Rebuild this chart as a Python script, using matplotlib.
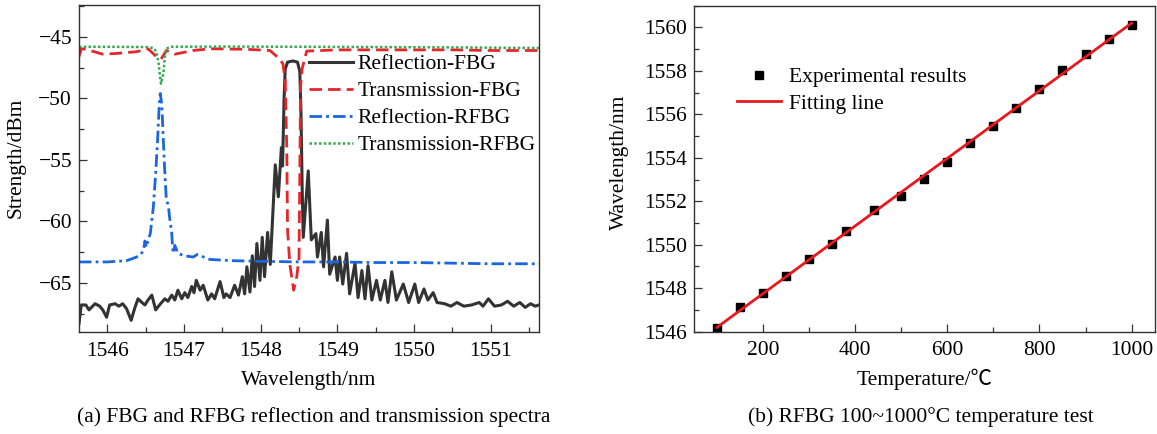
import numpy as np
import matplotlib
matplotlib.use("Agg")
import matplotlib.pyplot as plt
from matplotlib.ticker import MultipleLocator

plt.rcParams['font.family'] = ['Liberation Serif', 'Noto Sans CJK SC']
plt.rcParams['font.size'] = 15.5
plt.rcParams['axes.unicode_minus'] = True

# (a) spectra, wavelength in nm / power in dBm
fbg_ref_wl = [1545.63, 1545.66, 1545.72, 1545.76, 1545.84, 1545.90, 1545.94, 1545.99, 1546.03, 1546.10,
              1546.15, 1546.20, 1546.25, 1546.31, 1546.36, 1546.40, 1546.45, 1546.49, 1546.53, 1546.58,
              1546.63, 1546.68, 1546.75, 1546.79, 1546.84, 1546.88, 1546.92, 1546.97, 1547.01, 1547.05,
              1547.10, 1547.13, 1547.16, 1547.21, 1547.25, 1547.31, 1547.36, 1547.40, 1547.47, 1547.52,
              1547.55, 1547.60, 1547.66, 1547.71, 1547.76, 1547.79, 1547.82, 1547.86, 1547.89, 1547.92,
              1547.95, 1547.99, 1548.02, 1548.05, 1548.09, 1548.125, 1548.19, 1548.23, 1548.27, 1548.285,
              1548.305, 1548.32, 1548.35, 1548.42, 1548.48, 1548.51, 1548.525, 1548.54, 1548.555, 1548.62,
              1548.66, 1548.72, 1548.74, 1548.79, 1548.82, 1548.87, 1548.90, 1548.97, 1549.00, 1549.03,
              1549.07, 1549.12, 1549.16, 1549.23, 1549.27, 1549.32, 1549.36, 1549.40, 1549.45, 1549.51,
              1549.56, 1549.62, 1549.66, 1549.71, 1549.77, 1549.86, 1549.93, 1550.01, 1550.06, 1550.13,
              1550.18, 1550.25, 1550.30, 1550.40, 1550.48, 1550.56, 1550.65, 1550.75, 1550.85, 1550.90,
              1550.97, 1551.05, 1551.14, 1551.22, 1551.30, 1551.38, 1551.45, 1551.52, 1551.58, 1551.63]
fbg_ref_db = [-68.3, -66.8, -66.8, -67.2, -66.7, -66.9, -67.2, -67.8, -66.8, -66.7,
              -66.9, -66.7, -67.1, -68.05, -67.0, -66.3, -66.6, -66.8, -66.4, -66.0,
              -67.2, -66.8, -66.3, -66.5, -66.0, -66.4, -65.6, -66.3, -65.8, -66.2,
              -65.3, -65.8, -64.8, -65.6, -65.2, -66.4, -65.9, -66.3, -64.9, -66.2,
              -65.9, -66.2, -65.2, -66.0, -64.5, -65.9, -63.7, -65.75, -62.8, -65.3,
              -61.8, -64.8, -61.3, -64.5, -60.9, -63.5, -55.4, -58.0, -54.0, -55.5,
              -50.0, -47.6, -47.05, -46.95, -47.05, -47.8, -51.0, -57.0, -61.3, -55.9,
              -61.5, -61.0, -62.9, -60.9, -63.7, -59.9, -64.3, -62.9, -64.8, -62.9,
              -65.1, -62.6, -65.9, -63.4, -66.2, -64.0, -66.3, -63.6, -66.4, -64.8,
              -66.4, -64.8, -66.6, -64.1, -66.4, -65.1, -66.6, -65.1, -66.6, -65.5,
              -66.4, -65.8, -66.6, -66.7, -66.9, -66.6, -66.9, -66.8, -66.6, -66.9,
              -66.3, -66.9, -66.8, -66.5, -66.9, -66.6, -67.0, -66.7, -66.9, -66.8]

fbg_tr_wl = [1545.63, 1545.66, 1545.72, 1545.94, 1546.10, 1546.38, 1546.53, 1546.64, 1546.70, 1546.77,
             1546.88, 1547.12, 1547.34, 1547.80, 1548.12, 1548.25, 1548.29, 1548.32, 1548.34, 1548.35,
             1548.38, 1548.43, 1548.47, 1548.50, 1548.51, 1548.52, 1548.54, 1548.60, 1549.00, 1549.50,
             1550.00, 1550.50, 1551.00, 1551.63]
fbg_tr_db = [-46.6, -45.96, -46.0, -46.4, -46.35, -46.2, -45.96, -46.6, -46.8, -46.1,
             -46.4, -46.1, -45.96, -46.0, -46.1, -46.8, -47.2, -48.5, -54.0, -60.7,
             -63.5, -65.6, -64.5, -63.0, -56.0, -49.0, -47.6, -46.15, -46.05, -46.05,
             -46.05, -46.05, -46.1, -46.1]

rfbg_ref_wl = [1545.63, 1546.00, 1546.25, 1546.34, 1546.42, 1546.47, 1546.49, 1546.51, 1546.53, 1546.56,
               1546.60, 1546.63, 1546.655, 1546.675, 1546.69, 1546.71, 1546.73, 1546.75, 1546.77, 1546.79,
               1546.80, 1546.81, 1546.84, 1546.85, 1546.86, 1546.88, 1546.92, 1547.00, 1547.12, 1547.17,
               1547.34, 1547.64, 1548.00, 1548.50, 1549.00, 1549.50, 1550.00, 1550.50, 1551.00, 1551.63]
rfbg_ref_db = [-63.3, -63.3, -63.2, -63.0, -62.8, -62.4, -61.6, -62.1, -61.5, -61.0,
               -58.8, -56.1, -53.4, -50.7, -49.6, -50.5, -53.4, -56.1, -58.3, -58.6,
               -59.0, -59.6, -61.0, -62.1, -62.6, -61.95, -62.6, -62.8, -62.9, -62.7,
               -63.1, -63.2, -63.25, -63.3, -63.3, -63.35, -63.35, -63.4, -63.45, -63.45]

rfbg_tr_wl = [1545.63, 1546.00, 1546.50, 1546.60, 1546.64, 1546.67, 1546.69, 1546.70, 1546.73, 1546.75,
              1546.77, 1546.82, 1547.50, 1548.50, 1549.50, 1550.50, 1551.63]
rfbg_tr_db = [-45.8, -45.8, -45.82, -45.9, -46.2, -47.2, -48.4, -48.8, -48.0, -46.6,
              -45.96, -45.8, -45.78, -45.8, -45.82, -45.85, -45.9]

# (b) Bragg wavelength vs temperature
temp_c = [100, 150, 200, 250, 300, 350, 380, 440, 500, 550, 600, 650, 700, 750, 800, 850, 900, 950, 1000]
bragg_nm = [1546.18, 1547.12, 1547.79, 1548.56, 1549.34, 1550.03, 1550.65, 1551.60, 1552.24, 1553.01,
            1553.81, 1554.66, 1555.46, 1556.27, 1557.16, 1558.05, 1558.80, 1559.48, 1560.12]

fig = plt.figure(figsize=(11.57, 4.34), dpi=100)
ax1 = fig.add_axes([79 / 1157, 102 / 434, 460 / 1157, 327 / 434])
ax2 = fig.add_axes([694 / 1157, 102.3 / 434, 460.6 / 1157, 326 / 434])

ax1.plot(fbg_ref_wl, fbg_ref_db, color='#333333', lw=2.2, label='Reflection-FBG')
ax1.plot(fbg_tr_wl, fbg_tr_db, color='#e5262b', lw=2.0, dashes=(4.5, 2.2), label='Transmission-FBG')
ax1.plot(rfbg_ref_wl, rfbg_ref_db, color='#1a66e0', lw=2.0, dashes=(4.5, 1.5, 1, 1.5), label='Reflection-RFBG')
ax1.plot(rfbg_tr_wl, rfbg_tr_db, color='#35a853', lw=1.8, dashes=(1, 0.9), label='Transmission-RFBG')

ax1.set_xlim(1545.63, 1551.63)
ax1.set_ylim(-69.0, -42.4)
ax1.xaxis.set_major_locator(MultipleLocator(1))
ax1.xaxis.set_minor_locator(MultipleLocator(0.5))
ax1.yaxis.set_major_locator(MultipleLocator(5))
ax1.yaxis.set_minor_locator(MultipleLocator(2.5))
ax1.set_xlabel('Wavelength/nm', va='center')
ax1.xaxis.set_label_coords(0.5, -0.147)
ax1.set_ylabel('Strength/dBm', va='center')
ax1.yaxis.set_label_coords((16 - 79) / 460, 0.532)
ax1.legend(loc='upper left', bbox_to_anchor=(0.5, 0.849), frameon=False, handlelength=2.05,
           handletextpad=0.2, labelspacing=0.32, borderpad=0, borderaxespad=0)

# fitted line from least squares
k, b = np.polyfit(temp_c, bragg_nm, 1)
fit_x = np.array([temp_c[0], temp_c[-1]])
ax2.plot(temp_c, bragg_nm, 's', color='black', ms=5.5, label='Experimental results')
ax2.plot(fit_x, k * fit_x + b, color='#e8191e', lw=2.0, label='Fitting line')
ax2.set_xlim(50, 1050)
ax2.set_ylim(1546, 1561)
ax2.xaxis.set_major_locator(MultipleLocator(200))
ax2.xaxis.set_minor_locator(MultipleLocator(100))
ax2.yaxis.set_major_locator(MultipleLocator(2))
ax2.yaxis.set_minor_locator(MultipleLocator(1))
ax2.set_xlabel('Temperature/℃', va='center')
ax2.xaxis.set_label_coords(0.5, -0.147)
ax2.set_ylabel('Wavelength/nm', va='center')
ax2.yaxis.set_label_coords((619 - 694) / 460.6, 0.52)
ax2.legend(loc='upper left', bbox_to_anchor=(0.093, 0.812), frameon=False, handlelength=2.05,
           handletextpad=0.36, labelspacing=0.32, borderpad=0, borderaxespad=0, numpoints=1)

for ax in (ax1, ax2):
    for sp in ax.spines.values():
        sp.set_linewidth(1.0)
        sp.set_color('#333333')
    ax.tick_params(which='both', direction='in', top=False, right=False, width=0.9, color='#333333')
    ax.tick_params(which='major', length=5.5, pad=7)
    ax.tick_params(which='minor', length=3.5)
    ax.tick_params(axis='y', which='major', pad=5)

fig.text(314 / 1157, 1 - 417 / 434, '(a) FBG and RFBG reflection and transmission spectra',
         ha='center', va='center')
fig.text(921 / 1157, 1 - 417 / 434, '(b) RFBG 100~1000°C temperature test',
         ha='center', va='center')

fig.savefig('out.png', dpi=100)
